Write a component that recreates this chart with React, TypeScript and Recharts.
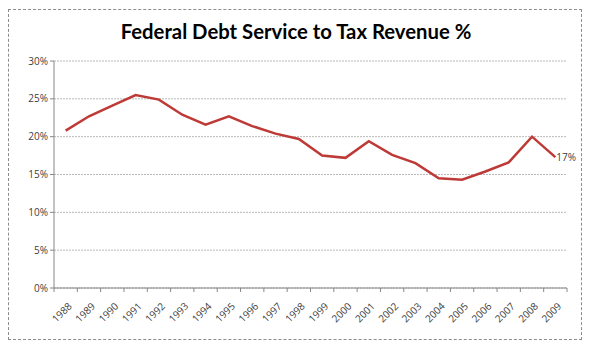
import React from "react";
import { LineChart, Line, XAxis, YAxis, CartesianGrid, LabelList } from "recharts";

const years = ["1988","1989","1990","1991","1992","1993","1994","1995","1996","1997","1998","1999","2000","2001","2002","2003","2004","2005","2006","2007","2008","2009"];
const debtServicePct = [20.8,22.7,24.1,25.5,24.9,22.9,21.6,22.7,21.4,20.4,19.7,17.5,17.2,19.4,17.6,16.5,14.5,14.3,15.4,16.6,20.0,17.3];
const yTicks = [0,5,10,15,20,25,30];

const data = years.map((y, i) => ({ year: y, value: debtServicePct[i] }));

const W = 574;
const H = 331;
const M = { top: 52, right: 15, bottom: 0, left: 0 };
const YW = 46;
const XH = 52;
const plotW = W - M.left - M.right - YW;
const step = plotW / years.length;

const XTick = (props: any) => {
  const { x, y, payload, index } = props;
  return (
    <g>
      <line x1={x - step / 2} x2={x - step / 2} y1={y - 8} y2={y - 4} stroke="#888" />
      {index === years.length - 1 && (
        <line x1={x + step / 2} x2={x + step / 2} y1={y - 8} y2={y - 4} stroke="#888" />
      )}
      <text
        x={x + 4}
        y={y + 8}
        transform={`rotate(-45, ${x + 4}, ${y + 8})`}
        textAnchor="end"
        fontSize={10}
        fill="#404040"
        fontFamily="'Open Sans', sans-serif"
        dominantBaseline="central"
      >
        {payload.value}
      </text>
    </g>
  );
};

const EndLabel = (props: any) => {
  const { x, y, index, value } = props;
  if (index !== years.length - 1) return null;
  return (
    <text x={x + 1} y={y + 4} fontSize={10} fill="#404040" fontFamily="'Open Sans', sans-serif">
      {Math.round(value)}%
    </text>
  );
};

export default function App() {
  return (
    <div style={{ position: "relative", width: W, height: H, border: "1px dashed #8c8c8c", boxSizing: "border-box", marginTop: 1 }}>
      <div
        style={{
          position: "absolute",
          top: 9,
          left: 0,
          width: W,
          textAlign: "center",
          fontFamily: "Lato, 'Open Sans', sans-serif",
          fontWeight: 700,
          fontSize: 20.3,
          color: "#000",
        }}
      >
        Federal Debt Service to Tax Revenue %
      </div>
      <div style={{ position: "absolute", top: -1, left: -1 }}>
        <LineChart width={W} height={H} data={data} margin={M}>
          <CartesianGrid vertical={false} stroke="#b8b8b8" strokeDasharray="2 1" />
          <XAxis
            dataKey="year"
            interval={0}
            padding={{ left: step / 2, right: step / 2 }}
            stroke="#888"
            tickLine={false}
            tick={<XTick />}
            height={XH}
          />
          <YAxis
            width={YW}
            domain={[0, 30]}
            ticks={yTicks}
            tickFormatter={(v: number) => `${v}%`}
            stroke="#888"
            tickSize={4}
            tick={{ fontSize: 10, fill: "#404040", fontFamily: "'Open Sans', sans-serif" }}
          />
          <Line
            type="linear"
            dataKey="value"
            stroke="#BE3A36"
            strokeWidth={2.5}
            dot={false}
            isAnimationActive={false}
          >
            <LabelList dataKey="value" content={<EndLabel />} />
          </Line>
        </LineChart>
      </div>
    </div>
  );
}
